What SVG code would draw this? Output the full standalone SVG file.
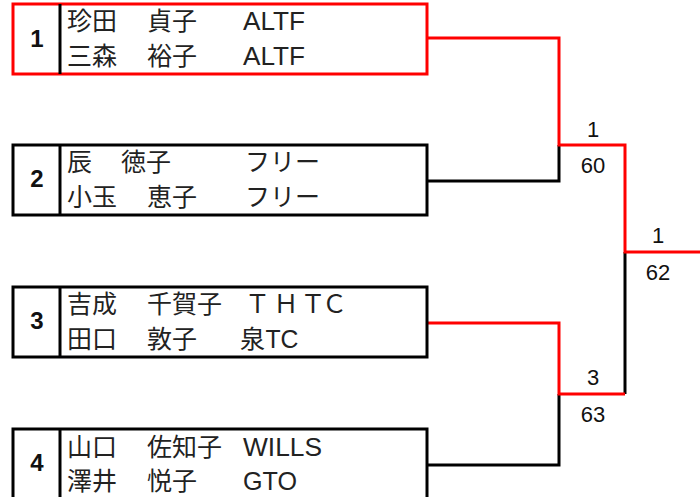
<svg xmlns="http://www.w3.org/2000/svg" width="700" height="497" viewBox="0 0 700 497">
<style>
.box{fill:#fff;stroke:#000;stroke-width:3}
.box.win{stroke:#ff0000}
.div{stroke:#000;stroke-width:3}
.seed{font-family:"Liberation Sans",Arial,sans-serif;font-size:24px;font-weight:bold;fill:#111;text-anchor:middle}
.jp{font-family:"Noto Sans CJK JP","Liberation Sans",sans-serif;font-size:25px;fill:#222}
.lat{font-family:"Liberation Sans","Noto Sans CJK JP",sans-serif;font-size:25px;fill:#222}
.lbl{font-family:"Liberation Sans",Arial,sans-serif;font-size:22px;fill:#111;text-anchor:middle}
.ln{fill:none;stroke:#000;stroke-width:3}
.ln.red{stroke:#ff0000}
</style>
<g id="connectors">
<polyline class="ln" points="427,181 559,181 559,145"/>
<polyline class="ln" points="427,465 559,465 559,394"/>
<polyline class="ln" points="625,394 625,252"/>
<polyline class="ln red" points="427,38 559,38 559,145 625,145 625,252 700,252"/>
<polyline class="ln red" points="427,323 559,323 559,394 625,394"/>
</g>
<g id="node1">
<rect class="box win" x="13" y="4" width="414" height="70"/>
<line class="div" x1="60" y1="4" x2="60" y2="74"/>
<text class="seed" x="37" y="47">1</text>
<text class="jp" x="67" y="30">珍田</text><text class="jp" x="147" y="30">貞子</text><text class="lat" x="243" y="30" textLength="62" lengthAdjust="spacingAndGlyphs">ALTF</text>
<text class="jp" x="67" y="65">三森</text><text class="jp" x="147" y="65">裕子</text><text class="lat" x="243" y="65" textLength="62" lengthAdjust="spacingAndGlyphs">ALTF</text>
</g>
<g id="node2">
<rect class="box" x="13" y="145" width="414" height="70"/>
<line class="div" x1="60" y1="145" x2="60" y2="215"/>
<text class="seed" x="37" y="187">2</text>
<text class="jp" x="67" y="171">辰</text><text class="jp" x="121" y="171">徳子</text><text class="jp" x="245" y="171">フリー</text>
<text class="jp" x="67" y="206">小玉</text><text class="jp" x="147" y="206">恵子</text><text class="jp" x="245" y="206">フリー</text>
</g>
<g id="node3">
<rect class="box" x="13" y="287" width="414" height="70"/>
<line class="div" x1="60" y1="287" x2="60" y2="357"/>
<text class="seed" x="37" y="329">3</text>
<text class="jp" x="67" y="313">吉成</text><text class="jp" x="147" y="313">千賀子</text><text class="jp" x="257.5 286 313 334.5" y="313" text-anchor="middle">ＴＨＴＣ</text>
<text class="jp" x="67" y="348">田口</text><text class="jp" x="147" y="348">敦子</text><text class="jp" x="240" y="348">泉</text><text class="lat" x="265.5" y="348" textLength="33" lengthAdjust="spacingAndGlyphs">TC</text>
</g>
<g id="node4">
<rect class="box" x="13" y="429" width="414" height="70"/>
<line class="div" x1="60" y1="429" x2="60" y2="499"/>
<text class="seed" x="37" y="471">4</text>
<text class="jp" x="67" y="456">山口</text><text class="jp" x="147" y="456">佐知子</text><text class="lat" x="243" y="456" textLength="79" lengthAdjust="spacingAndGlyphs">WILLS</text>
<text class="jp" x="67" y="490">澤井</text><text class="jp" x="147" y="490">悦子</text><text class="lat" x="243" y="490" textLength="54" lengthAdjust="spacingAndGlyphs">GTO</text>
</g>
<g id="labels">
<text class="lbl" x="593" y="137">1</text>
<text class="lbl" x="593" y="173">60</text>
<text class="lbl" x="658" y="243">1</text>
<text class="lbl" x="658" y="280">62</text>
<text class="lbl" x="593" y="385">3</text>
<text class="lbl" x="593" y="422">63</text>
</g>
</svg>
